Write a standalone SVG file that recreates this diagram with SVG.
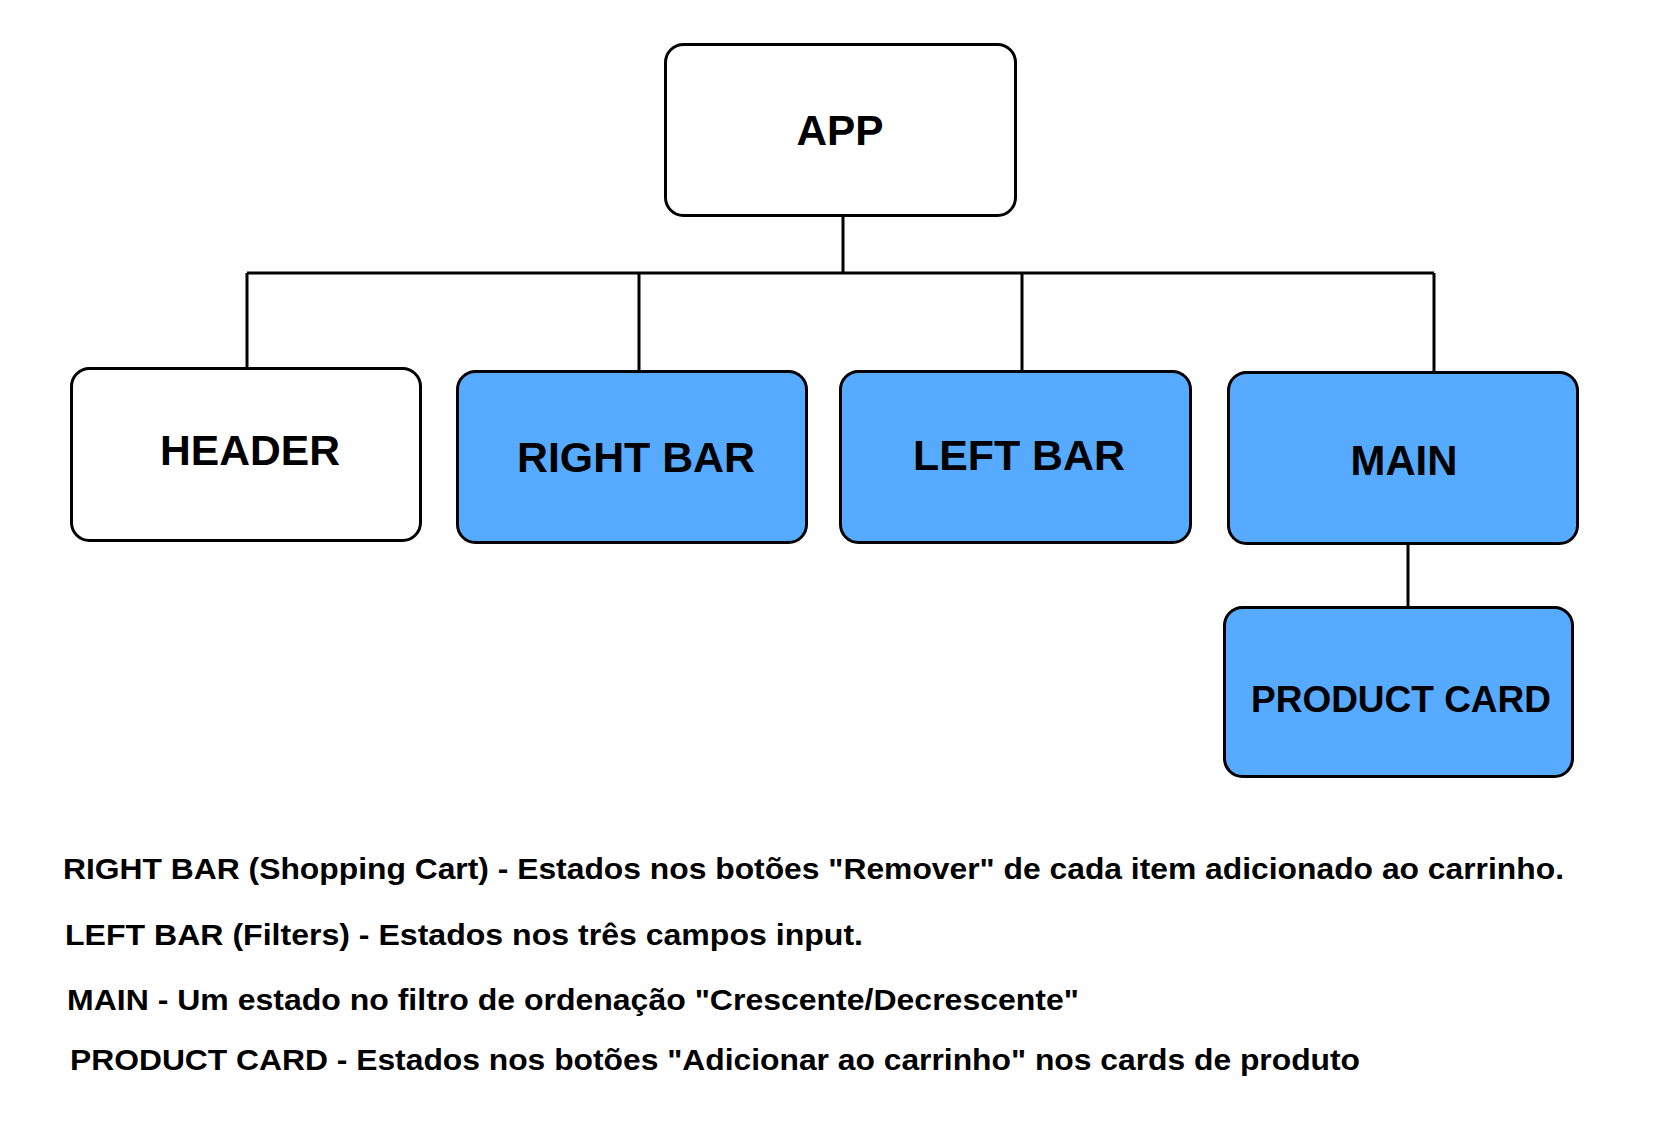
<svg xmlns="http://www.w3.org/2000/svg" width="1663" height="1138" viewBox="0 0 1663 1138">
<style>
.box{stroke:#000;stroke-width:3}
.w{fill:#fff}
.b{fill:#56aaff}
.lbl{font-family:"Liberation Sans",Arial,sans-serif;font-weight:bold;fill:#000}
.big{font-size:43px}
.note{font-size:30px}
.conn{stroke:#000;stroke-width:3;fill:none}
</style>
<rect width="1663" height="1138" fill="#fff"/>
<g id="connectors">
<path class="conn" d="M843 217V273M247 273H1434M247 273V367M639 273V370M1022 273V370M1434 273V371M1408 545V606"/>
</g>
<g id="app">
<rect class="box w" x="665.5" y="44.5" width="350" height="171" rx="18"/>
<text class="lbl big" x="840" y="145" text-anchor="middle" textLength="87" lengthAdjust="spacingAndGlyphs">APP</text>
</g>
<g id="header">
<rect class="box w" x="71.5" y="368.5" width="349" height="172" rx="18"/>
<text class="lbl big" x="250" y="465" text-anchor="middle" textLength="180" lengthAdjust="spacingAndGlyphs">HEADER</text>
</g>
<g id="rightbar">
<rect class="box b" x="457.5" y="371.5" width="349" height="171" rx="18"/>
<text class="lbl big" x="636" y="472" text-anchor="middle" textLength="238" lengthAdjust="spacingAndGlyphs">RIGHT BAR</text>
</g>
<g id="leftbar">
<rect class="box b" x="840.5" y="371.5" width="350" height="171" rx="18"/>
<text class="lbl big" x="1019" y="470" text-anchor="middle" textLength="212" lengthAdjust="spacingAndGlyphs">LEFT BAR</text>
</g>
<g id="main">
<rect class="box b" x="1228.5" y="372.5" width="349" height="171" rx="18"/>
<text class="lbl big" x="1404" y="475" text-anchor="middle" textLength="107" lengthAdjust="spacingAndGlyphs">MAIN</text>
</g>
<g id="productcard">
<rect class="box b" x="1224.5" y="607.5" width="348" height="169" rx="18"/>
<text class="lbl" font-size="37" x="1401" y="712" text-anchor="middle" textLength="300" lengthAdjust="spacingAndGlyphs">PRODUCT CARD</text>
</g>
<g id="notes">
<text class="lbl note" x="63" y="879" textLength="1501" lengthAdjust="spacingAndGlyphs">RIGHT BAR (Shopping Cart) - Estados nos botões "Remover" de cada item adicionado ao carrinho.</text>
<text class="lbl note" x="65" y="945" textLength="798" lengthAdjust="spacingAndGlyphs">LEFT BAR (Filters) - Estados nos três campos input.</text>
<text class="lbl note" x="67" y="1010" textLength="1012" lengthAdjust="spacingAndGlyphs">MAIN - Um estado no filtro de ordenação "Crescente/Decrescente"</text>
<text class="lbl note" x="70" y="1070" textLength="1290" lengthAdjust="spacingAndGlyphs">PRODUCT CARD - Estados nos botões "Adicionar ao carrinho" nos cards de produto</text>
</g>
</svg>
